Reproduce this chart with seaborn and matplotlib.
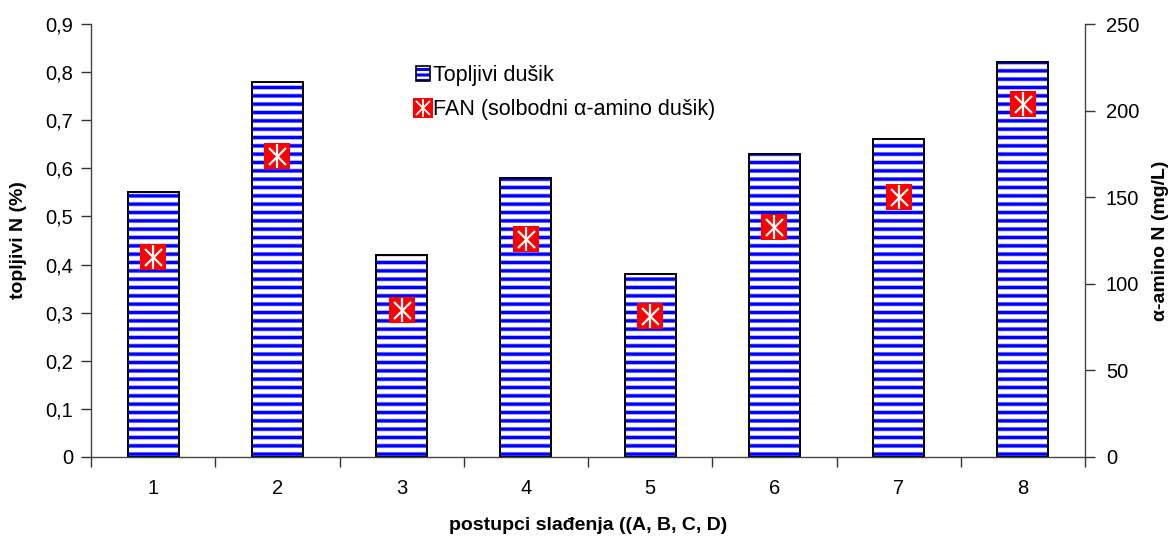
import matplotlib
matplotlib.use("Agg")
import matplotlib.pyplot as plt
import seaborn as sns
import pandas as pd
from matplotlib.patches import Patch
from matplotlib.lines import Line2D

# data
postupci = ["1", "2", "3", "4", "5", "6", "7", "8"]
topljivi_n = [0.55, 0.78, 0.42, 0.58, 0.38, 0.63, 0.66, 0.82]
fan = [115.5, 174, 85, 126, 81.5, 133, 150, 204]
left_ticks = [0, 0.1, 0.2, 0.3, 0.4, 0.5, 0.6, 0.7, 0.8, 0.9]
left_ticklabels = ["0", "0,1", "0,2", "0,3", "0,4", "0,5", "0,6", "0,7", "0,8", "0,9"]
right_ticks = [0, 50, 100, 150, 200, 250]

df = pd.DataFrame({"postupak": postupci, "topljivi": topljivi_n, "fan": fan})

sns.set_theme(style="white")
plt.rcParams["font.family"] = ["Liberation Sans", "DejaVu Sans"]
plt.rcParams["text.color"] = "black"
plt.rcParams["hatch.linewidth"] = 3.2

TS = 14.5
LS = 14

fig = plt.figure(figsize=(11.72, 5.39), dpi=100)
ax = fig.add_axes([91 / 1172, 82 / 539, 994 / 1172, 433 / 539])

bw = 0.41
# light-blue wide stripes
sns.barplot(data=df, x="postupak", y="topljivi", order=postupci, ax=ax,
            width=bw, color="white", edgecolor="#9a9aff", linewidth=0,
            hatch="--", saturation=1, errorbar=None)
for p in ax.patches:
    p.set_hatch("--")
    p.set_edgecolor("#9c9cff")
    p.set_linewidth(0)
n1 = len(ax.patches)
plt.rcParams["hatch.linewidth"] = 2.2
sns.barplot(data=df, x="postupak", y="topljivi", order=postupci, ax=ax,
            width=bw, fill=False, edgecolor="#0000ff", linewidth=0,
            saturation=1, errorbar=None)
for p in ax.patches[n1:]:
    p.set_hatch("--")
    p.set_edgecolor("#0000ff")
    p.set_linewidth(0)
n2 = len(ax.patches)
sns.barplot(data=df, x="postupak", y="topljivi", order=postupci, ax=ax,
            width=bw, fill=False, edgecolor="black", linewidth=1.4,
            saturation=1, errorbar=None)
for p in ax.patches[n2:]:
    p.set_hatch(None)
    p.set_facecolor("none")
    p.set_edgecolor("black")

ax.set_xlim(-0.5, 7.5)
ax.set_ylim(0, 0.9)
ax.set_yticks(left_ticks)
ax.set_yticklabels(left_ticklabels)
ax.set_xticks([i - 0.5 for i in range(9)])
ax.set_xticklabels([""] * 9)
ax.set_xticks(range(8), minor=True)
ax.set_xticklabels(postupci, minor=True)
ax.tick_params(axis="x", which="major", direction="out", length=7, width=1,
               color="#333333", bottom=True)
ax.tick_params(axis="x", which="minor", length=0, pad=16, labelsize=TS,
               labelcolor="black")
ax.tick_params(axis="y", direction="out", length=7, width=1, color="#333333",
               left=True, pad=6, labelsize=TS, labelcolor="black")

ax.set_xlabel("postupci slađenja ((A, B, C, D)", fontsize=LS,
              fontweight="bold", color="black")
ax.xaxis.set_label_coords(0.5, -0.138)
ax.set_ylabel("topljivi N (%)", fontsize=LS, fontweight="bold", color="black")
ax.yaxis.set_label_coords(-0.064, 0.5)

for s in ["left", "bottom"]:
    ax.spines[s].set_color("#444444")
    ax.spines[s].set_linewidth(1)
ax.spines["top"].set_visible(False)
ax.spines["right"].set_visible(False)

ax2 = ax.twinx()
sns.scatterplot(data=df, x="postupak", y="fan", ax=ax2, marker="s", s=370,
                color="#ff0000", linewidth=0, zorder=5)
sns.scatterplot(data=df, x="postupak", y="fan", ax=ax2, marker="x", s=150,
                color="white", linewidth=1.6, zorder=6)
sns.scatterplot(data=df, x="postupak", y="fan", ax=ax2, marker="|", s=300,
                color="white", linewidth=1.6, zorder=7)
ax2.set_ylim(0, 250)
ax2.set_yticks(right_ticks)
ax2.set_yticklabels([str(t) for t in right_ticks])
ax2.tick_params(axis="y", direction="out", length=7, width=1, color="#333333",
                right=True, pad=8, labelsize=TS, labelcolor="black")
ax2.set_ylabel("α-amino N (mg/L)", fontsize=LS, fontweight="bold",
               color="black")
ax2.yaxis.set_label_coords(1.067, 0.5)
for s in ["top", "left", "bottom"]:
    ax2.spines[s].set_visible(False)
ax2.spines["right"].set_color("#444444")
ax2.spines["right"].set_linewidth(1)
ax2.set_xlim(-0.5, 7.5)

# legend
h1 = Patch(facecolor="white", edgecolor="#0000ff", hatch="---", linewidth=0)
h1b = Patch(facecolor="none", edgecolor="black", linewidth=1.2)
h2a = Line2D([], [], marker="s", color="#ff0000", markersize=15, linestyle="none",
             markeredgewidth=0)
h2b = Line2D([], [], marker="x", color="white", markersize=10, linestyle="none",
             markeredgewidth=1.3)
h2c = Line2D([], [], marker="|", color="white", markersize=13, linestyle="none",
             markeredgewidth=1.3)
leg = ax2.legend([(h1, h1b), (h2a, h2b, h2c)],
                 ["Topljivi dušik", "FAN (solbodni α-amino dušik)"],
                 loc="upper left", bbox_to_anchor=(0.318, 0.925), frameon=False,
                 fontsize=15.5, handlelength=0.65, handleheight=0.65,
                 handletextpad=0.15, labelspacing=0.6, borderaxespad=0,
                 labelcolor="black")

fig.savefig("out.png", dpi=100)
